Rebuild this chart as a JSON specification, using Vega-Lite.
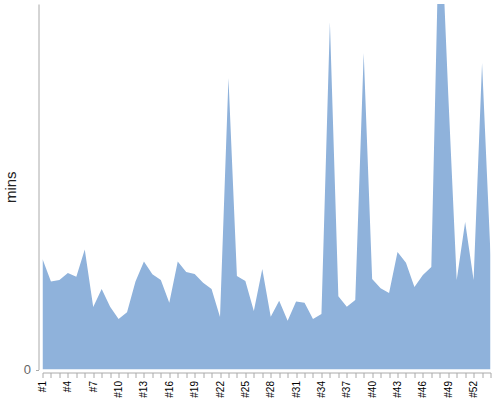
{
  "$schema": "https://vega.github.io/schema/vega-lite/v6.json",
  "autosize": {"type": "none"},
  "padding": {"left": 42.5, "top": 4, "right": 9.5, "bottom": 30.5},
  "width": 448,
  "height": 365.5,
  "config": {"view": {"stroke": null}, "font": "Liberation Sans"},
  "data": {"values": [
    {"week": "#1", "mins": 27.6}, {"week": "#2", "mins": 22.0}, {"week": "#3", "mins": 22.4},
    {"week": "#4", "mins": 24.1}, {"week": "#5", "mins": 23.2}, {"week": "#6", "mins": 30.0},
    {"week": "#7", "mins": 15.6}, {"week": "#8", "mins": 20.1}, {"week": "#9", "mins": 15.7},
    {"week": "#10", "mins": 12.6}, {"week": "#11", "mins": 14.3}, {"week": "#12", "mins": 22.0},
    {"week": "#13", "mins": 27.0}, {"week": "#14", "mins": 23.8}, {"week": "#15", "mins": 22.4},
    {"week": "#16", "mins": 16.7}, {"week": "#17", "mins": 27.0}, {"week": "#18", "mins": 24.4},
    {"week": "#19", "mins": 23.9}, {"week": "#20", "mins": 21.7}, {"week": "#21", "mins": 20.1},
    {"week": "#22", "mins": 13.1}, {"week": "#23", "mins": 72.9}, {"week": "#24", "mins": 23.4},
    {"week": "#25", "mins": 22.1}, {"week": "#26", "mins": 14.6}, {"week": "#27", "mins": 25.1},
    {"week": "#28", "mins": 13.2}, {"week": "#29", "mins": 17.2}, {"week": "#30", "mins": 12.2},
    {"week": "#31", "mins": 17.0}, {"week": "#32", "mins": 16.7}, {"week": "#33", "mins": 12.6},
    {"week": "#34", "mins": 13.9}, {"week": "#35", "mins": 86.9}, {"week": "#36", "mins": 18.3},
    {"week": "#37", "mins": 15.7}, {"week": "#38", "mins": 17.4}, {"week": "#39", "mins": 79.1},
    {"week": "#40", "mins": 22.6}, {"week": "#41", "mins": 20.3}, {"week": "#42", "mins": 19.1},
    {"week": "#43", "mins": 29.4}, {"week": "#44", "mins": 26.7}, {"week": "#45", "mins": 20.6},
    {"week": "#46", "mins": 23.6}, {"week": "#47", "mins": 25.6}, {"week": "#48", "mins": 119.1},
    {"week": "#49", "mins": 68.9}, {"week": "#50", "mins": 22.4}, {"week": "#51", "mins": 36.9},
    {"week": "#52", "mins": 22.4}, {"week": "#53", "mins": 76.6}, {"week": "#54", "mins": 28.6}
  ]},
  "mark": {"type": "area", "color": "#8fb2db", "opacity": 1, "clip": true},
  "encoding": {
    "x": {
      "field": "week", "type": "ordinal", "sort": null,
      "scale": {"type": "point", "padding": 0},
      "axis": {
        "title": null, "offset": 3, "grid": false,
        "domainColor": "#aaaaaa", "tickColor": "#aaaaaa", "tickSize": 5,
        "labelAngle": 270, "labelAlign": "right", "labelBaseline": "middle",
        "labelFontSize": 10, "labelColor": "#000000", "labelPadding": 3,
        "labelOverlap": false,
        "labelExpr": "(toNumber(substring(datum.label, 1)) - 1) % 3 === 0 ? datum.label : ''"
      }
    },
    "y": {
      "field": "mins", "type": "quantitative",
      "scale": {"domain": [0, 91.375], "nice": false, "zero": true},
      "axis": {
        "title": "mins", "offset": 4, "grid": false, "values": [0],
        "domainColor": "#aaaaaa", "tickColor": "#aaaaaa", "tickSize": 3,
        "labelColor": "#666666", "labelFontSize": 13, "labelPadding": 5,
        "titleFontSize": 15, "titleFontWeight": "normal", "titleColor": "#222222",
        "titlePadding": 5
      }
    }
  }
}
